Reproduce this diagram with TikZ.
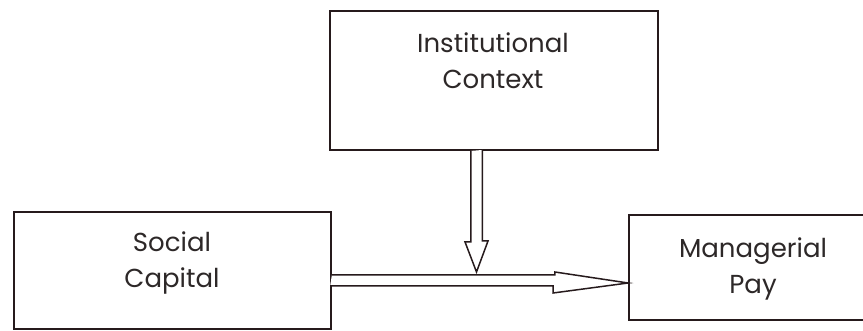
\documentclass[tikz,border=0pt]{standalone}
\usepackage{fontspec}
\setmainfont{Poppins}
\usetikzlibrary{calc}
\definecolor{inkline}{RGB}{38,26,28}
\definecolor{inktext}{RGB}{45,40,40}
\tikzset{
  box/.style={draw=inkline, line width=1.8pt, fill=white, inner sep=0pt, minimum width=#1},
  boxtext/.style={text=inktext, font=\fontsize{26}{36}\selectfont, align=center, inner sep=0pt},
  blockarrow/.style={draw=inkline, line width=1.5pt, fill=white, line join=miter}
}
\begin{document}
\begin{tikzpicture}[x=1pt,y=1pt]
\useasboundingbox (0,0) rectangle (863,331);
\fill[white] (0,0) rectangle (863,331);

% boxes
\node[box=328pt, minimum height=139pt] (ctx) at (494,250.5) {};
\node[box=317pt, minimum height=117pt] (soc) at (172.5,60.5) {};
\node[box=261pt, minimum height=105pt] (pay) at (759.5,63.5) {};

% labels
\node[boxtext] (ctxlbl) at (493,270) {Institutional\\Context};
\node[boxtext] (soclbl) at (172,68) {Social\\Capital};
\node[boxtext] (paylbl) at (753,62) {Managerial\\Pay};

% arrow tips
\coordinate (vtip) at (476.5,59);
\coordinate (htip) at ($(pay.west)+(0,-15.5)$);

% hollow arrow: social capital -> managerial pay
\draw[blockarrow] ($(soc.east |- htip)+(0,8)$) -- ++(223,0) -- ++(0,3) -- (htip)
  -- ++(-75,-10) -- ++(0,7) -- ++(-223,0);

% hollow arrow: institutional context -> the link
\draw[blockarrow] ($(vtip |- ctx.south)+(-5.75,0)$) -- ++(0,-91) -- ++(-5.75,0) -- (vtip)
  -- ++(11.5,31) -- ++(-5.75,0) -- ++(0,91);
\end{tikzpicture}
\end{document}
